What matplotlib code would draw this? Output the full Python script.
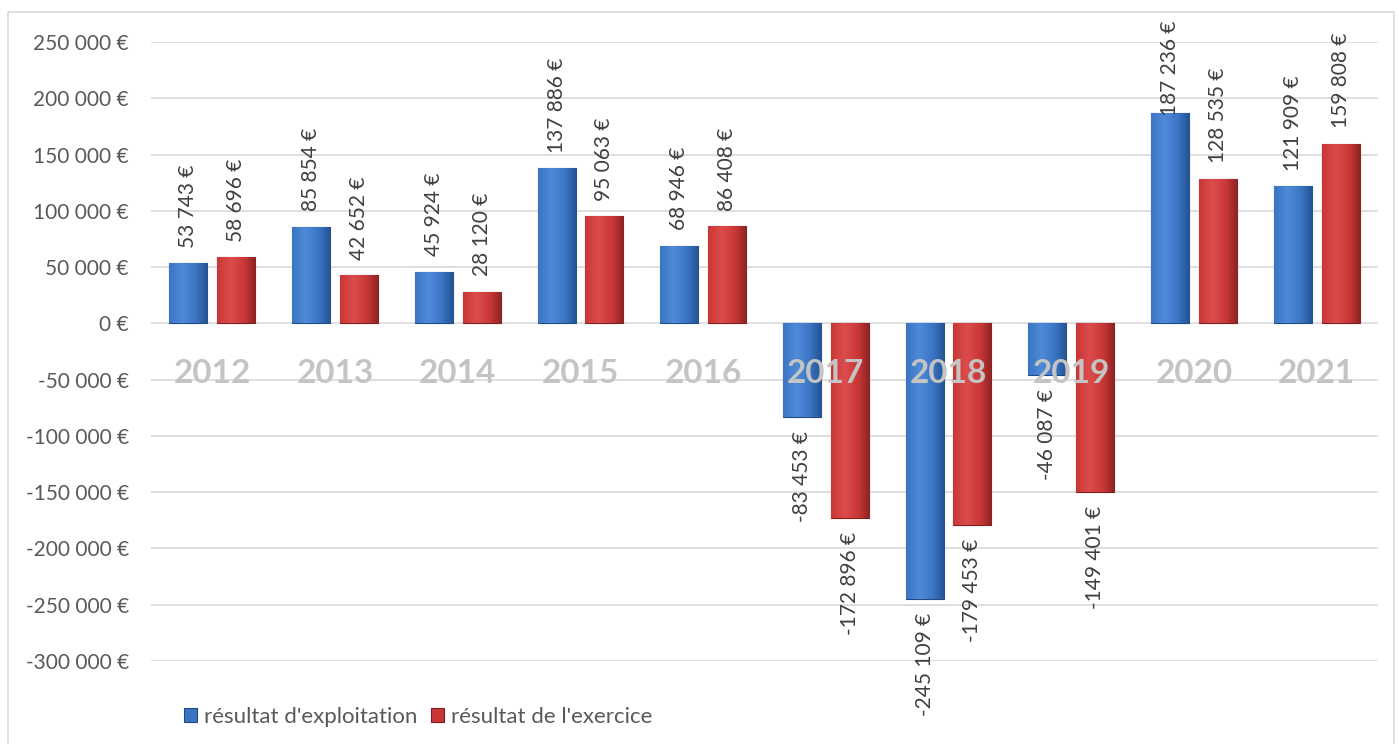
import numpy as np
import matplotlib
matplotlib.use('Agg')
import matplotlib.pyplot as plt
from matplotlib.patches import Rectangle

plt.rcParams['font.family'] = ['Lato', 'DejaVu Sans']

years = ['2012', '2013', '2014', '2015', '2016', '2017', '2018', '2019', '2020', '2021']
exploitation = [53743, 85854, 45924, 137886, 68946, -83453, -245109, -46087, 187236, 121909]
exercice = [58696, 42652, 28120, 95063, 86408, -172896, -179453, -149401, 128535, 159808]
series_names = ["résultat d'exploitation", "résultat de l'exercice"]
yticks = list(range(-300000, 250001, 50000))


def euro(v):
    s = f"{abs(int(v)):,}".replace(",", " ")
    return ("-" if v < 0 else "") + s + " €"


W, H = 1399, 744
fig = plt.figure(figsize=(W / 100, H / 100), dpi=100)
ax = fig.add_axes([151 / W, 1 - 661 / H, (1378 - 151) / W, (661 - 42) / H])

# chart border
fig.patches.append(Rectangle((8 / W, -0.01), (1394 - 8) / W, 1 - 12 / H + 0.01,
                             transform=fig.transFigure, fill=False,
                             edgecolor='#d9d9d9', linewidth=1.2))

x = np.arange(len(years))
bw = 0.31
off = 0.195
colors = [('#3a74c2', '#1f4a86', '#4f8ad8'), ('#c93636', '#7e1e1e', '#dd4c4c')]

bars_all = []
for k, (vals, sign) in enumerate([(exploitation, -1), (exercice, 1)]):
    base, dark, light = colors[k]
    bars = ax.bar(x + sign * off, vals, width=bw, color=base, edgecolor=dark,
                  linewidth=0.8, zorder=3, label=series_names[k])
    cmap = matplotlib.colors.LinearSegmentedColormap.from_list('g', [dark, base, light])
    for b in bars:
        x0, w = b.get_x(), b.get_width()
        y0, h = b.get_y(), b.get_height()
        grad = np.linspace(0, 1, 64)
        prof = 1 - np.abs(grad - 0.35) * 1.4
        img = ax.imshow(prof[None, :], cmap=cmap, vmin=0, vmax=1, aspect='auto',
                        extent=(x0, x0 + w, min(y0, y0 + h), max(y0, y0 + h)),
                        zorder=3.5, interpolation='bicubic')
        img.set_clip_path(b)
    bars_all.append((bars, vals))

ax.set_xlim(-0.5, len(years) - 0.5)
ax.set_ylim(-300000, 250000)
ax.set_yticks(yticks)
ax.set_yticklabels([euro(v) if v != 0 else "0 €" for v in yticks],
                   fontsize=15, color='#595959')
ax.tick_params(axis='y', length=0, pad=16)
ax.set_xticks([])
ax.grid(axis='y', color='#d9d9d9', linewidth=1.2, zorder=0)
ax.set_axisbelow(True)
for s in ax.spines.values():
    s.set_visible(False)

# year labels sitting on the zero line
for i, yr in enumerate(years):
    ax.annotate(yr, (i, 0), xytext=(0, -36), textcoords='offset points',
                ha='center', va='center', fontsize=24, fontweight='bold',
                color='#c4c4c4', zorder=6)

fig.canvas.draw()
renderer = fig.canvas.get_renderer()
for bars, vals in bars_all:
    for b, v in zip(bars, vals):
        cx = b.get_x() + b.get_width() / 2
        t = ax.annotate(euro(v), (cx, v), xytext=(0, 11 if v > 0 else -10),
                        textcoords='offset points', rotation=90, ha='center',
                        va='bottom' if v > 0 else 'top', fontsize=15,
                        color='#404040', zorder=7, annotation_clip=False)
        if v > 0:
            bb = t.get_window_extent(renderer)
            if bb.y1 > H - 20:
                shift = (bb.y1 - (H - 20)) * 72 / 100
                t.xyann = (0, 11 - shift)

leg = ax.legend(loc='lower left', bbox_to_anchor=(164 / W, -3 / H), bbox_transform=fig.transFigure,
                ncol=2, frameon=False, fontsize=16, handlelength=0.6, handleheight=0.6,
                handletextpad=0.3, columnspacing=0.6, labelcolor='#595959')

fig.savefig('out.png', dpi=100)
